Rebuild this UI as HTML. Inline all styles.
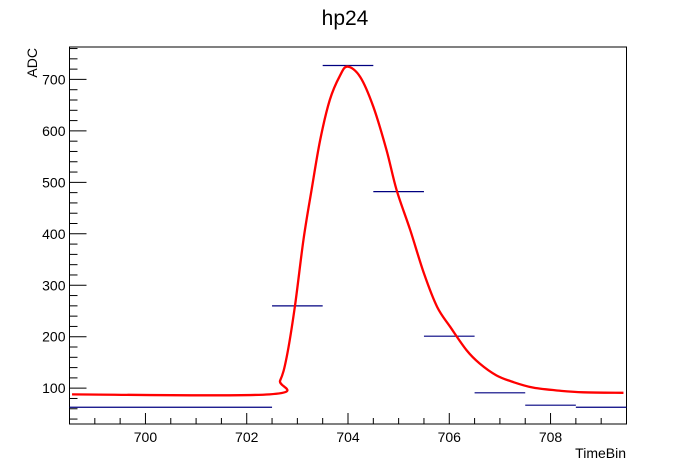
<!DOCTYPE html>
<html><head><meta charset="utf-8"><style>body{margin:0;background:#fff}svg{display:block;font-family:"Liberation Sans",Arial,sans-serif}</style></head>
<body>
<svg id="c" width="696" height="472" viewBox="0 0 696 472">
<rect width="696" height="472" fill="#fff"/>
<text x="345" y="25" font-size="21" text-anchor="middle">hp24</text>
<text x="0" y="0" font-size="14" text-anchor="end" transform="translate(37,48) rotate(-90)">ADC</text>
<text x="626" y="458" font-size="14" text-anchor="end">TimeBin</text>
<g id="g"></g>
</svg>
<script>
const binEdgesLo = [698.5, 702.5, 703.5, 704.5, 705.5, 706.5, 707.5, 708.5];
const binEdgesHi = [702.5, 703.5, 704.5, 705.5, 706.5, 707.5, 708.5, 709.5];
const binValues = [63, 260, 727, 482, 201, 91, 67, 63];
const fitX = [698.55, 702.45, 702.66, 702.79, 702.95, 703.12, 703.28, 703.45, 703.64, 703.84, 703.99, 704.24, 704.5, 704.76, 704.96, 705.23, 705.5, 705.76, 706.02, 706.34, 706.6, 706.93, 707.26, 707.66, 708.19, 708.65, 709.44];
const fitY = [88, 88, 115, 161, 258, 388, 485, 582, 660, 707, 725, 705, 647, 563, 485, 407, 323, 258, 219, 174, 148, 125, 112, 101, 95, 92, 91];
const xTicks = [700, 702, 704, 706, 708];
const yTicks = [100, 200, 300, 400, 500, 600, 700];

const L=69.5,R=626.5,T=47,B=424, X0=698.5,X1=709.5,Y0=30.4,Y1=763;
const sx=v=>L+(v-X0)/(X1-X0)*(R-L);
const sy=v=>B-(v-Y0)/(Y1-Y0)*(B-T);
const g=document.getElementById('g');
const NS='http://www.w3.org/2000/svg';
function mk(t,a){const e=document.createElementNS(NS,t);for(const k in a)e.setAttribute(k,a[k]);g.appendChild(e);return e;}

const fr=mk('rect',{x:L,y:T,width:R-L,height:B-T,fill:'none',stroke:'#000','stroke-width':1});



for(let v=698.5;v<=709.5001;v+=0.5){
  const maj=Math.abs(v%2)<1e-6; const x=sx(v);
  const t=mk('line',{x1:x,x2:x,y1:B,y2:B-(maj?11:6),stroke:'#000'});
  
  
}
xTicks.forEach(v=>{const t=mk('text',{x:sx(v),y:B+18,'font-size':14,'text-anchor':'middle'});t.textContent=v;
  
  });
for(let v=40;v<=760;v+=20){
  const maj=v%100===0; const y=sy(v);
  const t=mk('line',{x1:L,x2:L+(maj?17:8),y1:y,y2:y,stroke:'#000'});
  
  
}
yTicks.forEach(v=>{const t=mk('text',{x:L-4,y:sy(v)+5,'font-size':14,'text-anchor':'end'});t.textContent=v;
  
  });

binValues.forEach((v,i)=>{
  const l=mk('line',{x1:sx(binEdgesLo[i]),x2:sx(binEdgesHi[i]),y1:sy(v),y2:sy(v),stroke:'#000080','stroke-width':1.2});
  
  
});
// smooth fit curve (Catmull-Rom)
const pts=fitX.map((x,i)=>[sx(x),sy(fitY[i])]);
let d='M'+pts[0][0]+','+pts[0][1];
for(let i=0;i<pts.length-1;i++){
  const p0=pts[Math.max(i-1,0)],p1=pts[i],p2=pts[i+1],p3=pts[Math.min(i+2,pts.length-1)];
  const c1=[p1[0]+(p2[0]-p0[0])/6,p1[1]+(p2[1]-p0[1])/6];
  const c2=[p2[0]-(p3[0]-p1[0])/6,p2[1]-(p3[1]-p1[1])/6];
  d+=' C'+c1[0]+','+c1[1]+' '+c2[0]+','+c2[1]+' '+p2[0]+','+p2[1];
}
const p=mk('path',{d:d,fill:'none',stroke:'#ff0000','stroke-width':2.3,'stroke-linejoin':'round'});


</script>
</body></html>
